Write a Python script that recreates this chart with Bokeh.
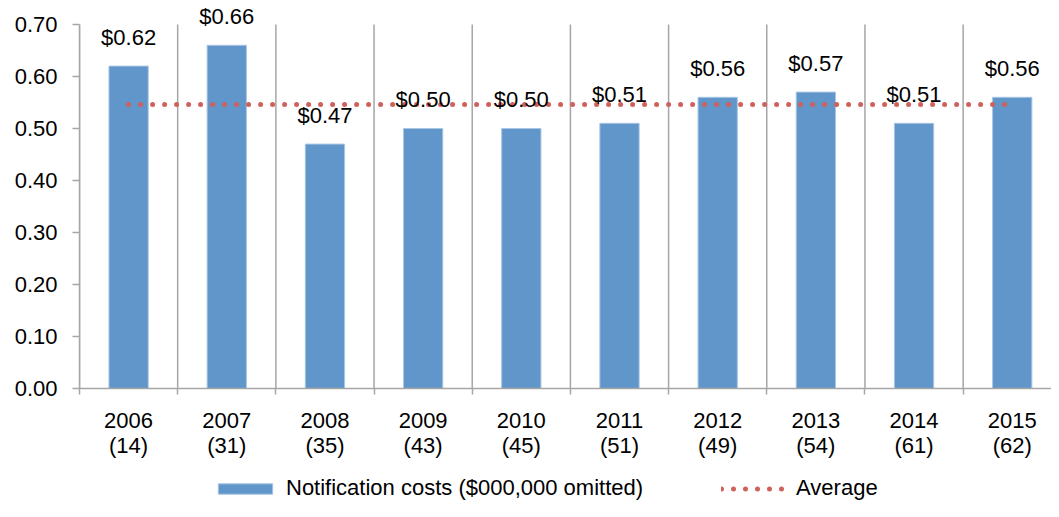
from bokeh.plotting import figure
from bokeh.layouts import column
from bokeh.models import (ColumnDataSource, FixedTicker, PrintfTickFormatter,
                          Legend, LegendItem, Range1d)
from bokeh.core.properties import value
from bokeh.embed import file_html
from bokeh.resources import INLINE

years = ["2006", "2007", "2008", "2009", "2010", "2011", "2012", "2013", "2014", "2015"]
counts = [14, 31, 35, 43, 45, 51, 49, 54, 61, 62]
costs = [0.62, 0.66, 0.47, 0.50, 0.50, 0.51, 0.56, 0.57, 0.51, 0.56]
average_cost = sum(costs) / len(costs)
y_ticks = [0.0, 0.1, 0.2, 0.3, 0.4, 0.5, 0.6, 0.7]
series_name = "Notification costs ($000,000 omitted)"
average_name = "Average"

FONT = "Liberation Sans"
FS = "22px"
BAR = "#6096C9"
BAR_EDGE = "#A9C6E4"
AVG = "#D0605A"
GRID = "#A6A6A6"
W = 1051
FRAME_H = 388      # px, frame spans whole top of the canvas
AXIS_TOP_PX = 364  # px above frame bottom where the 0.70 tick sits

n = len(years)
centers = [i + 0.5 for i in range(n)]
bounds = [float(i) for i in range(n + 1)]
labels = ["$%.2f" % c for c in costs]
y_max = y_ticks[-1]

src = ColumnDataSource(dict(x=centers, top=costs, label=labels))

p = figure(width=W, height=470, output_backend="svg", toolbar_location=None,
           x_range=Range1d(0, n - 0.1),
           y_range=Range1d(0, y_max * FRAME_H / AXIS_TOP_PX),
           min_border_left=79, min_border_right=0, min_border_top=0,
           min_border_bottom=470 - FRAME_H)
p.outline_line_color = None
p.background_fill_color = "white"
p.border_fill_color = "white"
p.grid.visible = False

# category boundary lines (stop at the top of the value axis)
p.segment(x0=bounds, y0=[0.0] * len(bounds), x1=bounds, y1=[y_max] * len(bounds),
          line_color=GRID, line_width=1.5)

bars = p.vbar(x="x", top="top", width=0.4, bottom=0, source=src,
              fill_color=BAR, line_color=BAR_EDGE, line_width=1)

p.line(x=[centers[0], centers[-1]], y=[average_cost, average_cost],
       line_color=AVG, line_width=5, line_dash="0 12", line_cap="round")

p.text(x="x", y="top", text="label", source=src, text_align="center",
       text_baseline="alphabetic", y_offset=-29, text_font=value(FONT),
       text_font_size=FS, text_color="black")

# x axis: labels at category centres, tick marks at boundaries
xt = FixedTicker(ticks=centers, minor_ticks=bounds)
p.xaxis.ticker = xt
p.xaxis.major_label_overrides = {c: "%s\n(%d)" % (y, k) for c, y, k in zip(centers, years, counts)}
p.xaxis.major_tick_line_color = None
p.xaxis.major_tick_out = 0
p.xaxis.major_tick_in = 0
p.xaxis.minor_tick_out = 6
p.xaxis.minor_tick_in = 0
p.xaxis.minor_tick_line_color = GRID
p.xaxis.minor_tick_line_width = 1.5
p.xaxis.axis_line_color = GRID
p.xaxis.axis_line_width = 1.5
p.xaxis.major_label_standoff = 13
p.xaxis.major_label_text_font = FONT
p.xaxis.major_label_text_font_size = FS
p.xaxis.major_label_text_line_height = 1.0
p.xaxis.major_label_text_color = "black"

# y axis
p.yaxis.ticker = FixedTicker(ticks=y_ticks, minor_ticks=[])
p.yaxis.bounds = (0, y_max)
p.yaxis.formatter = PrintfTickFormatter(format="%.2f")
p.yaxis.major_tick_out = 7
p.yaxis.major_tick_in = 0
p.yaxis.major_tick_line_color = GRID
p.yaxis.major_tick_line_width = 1.5
p.yaxis.axis_line_color = GRID
p.yaxis.axis_line_width = 1.5
p.yaxis.major_label_standoff = 15
p.yaxis.major_label_text_font = FONT
p.yaxis.major_label_text_font_size = FS
p.yaxis.major_label_text_color = "black"

# legend strip underneath (proxy renderers hold only NaN, so they draw nothing)
nan = float("nan")
pl = figure(width=W, height=31, output_backend="svg", toolbar_location=None,
            x_axis_type=None, y_axis_type=None,
            x_range=Range1d(0, 1), y_range=Range1d(0, 1),
            min_border=0, min_border_left=0, min_border_right=0,
            min_border_top=0, min_border_bottom=0)
pl.outline_line_color = None
pl.border_fill_color = "white"
lb = pl.vbar(x=[nan], top=[nan], width=0.4, fill_color=BAR, line_color=BAR_EDGE, line_width=1)
ll = pl.line(x=[nan, nan], y=[nan, nan], line_color=AVG, line_width=5,
             line_dash="0 12", line_cap="round")
legend = Legend(items=[
    LegendItem(label=series_name, renderers=[lb]),
    LegendItem(label=average_name, renderers=[ll]),
], orientation="horizontal", location=(132, 0), glyph_width=68, glyph_height=13,
    label_standoff=7, spacing=78, padding=0, margin=0,
    label_text_font=FONT, label_text_font_size=FS, label_text_color="black",
    border_line_color=None, background_fill_alpha=0)
pl.add_layout(legend, "center")

open("out.html", "w").write(file_html(column(p, pl, spacing=0), INLINE))
